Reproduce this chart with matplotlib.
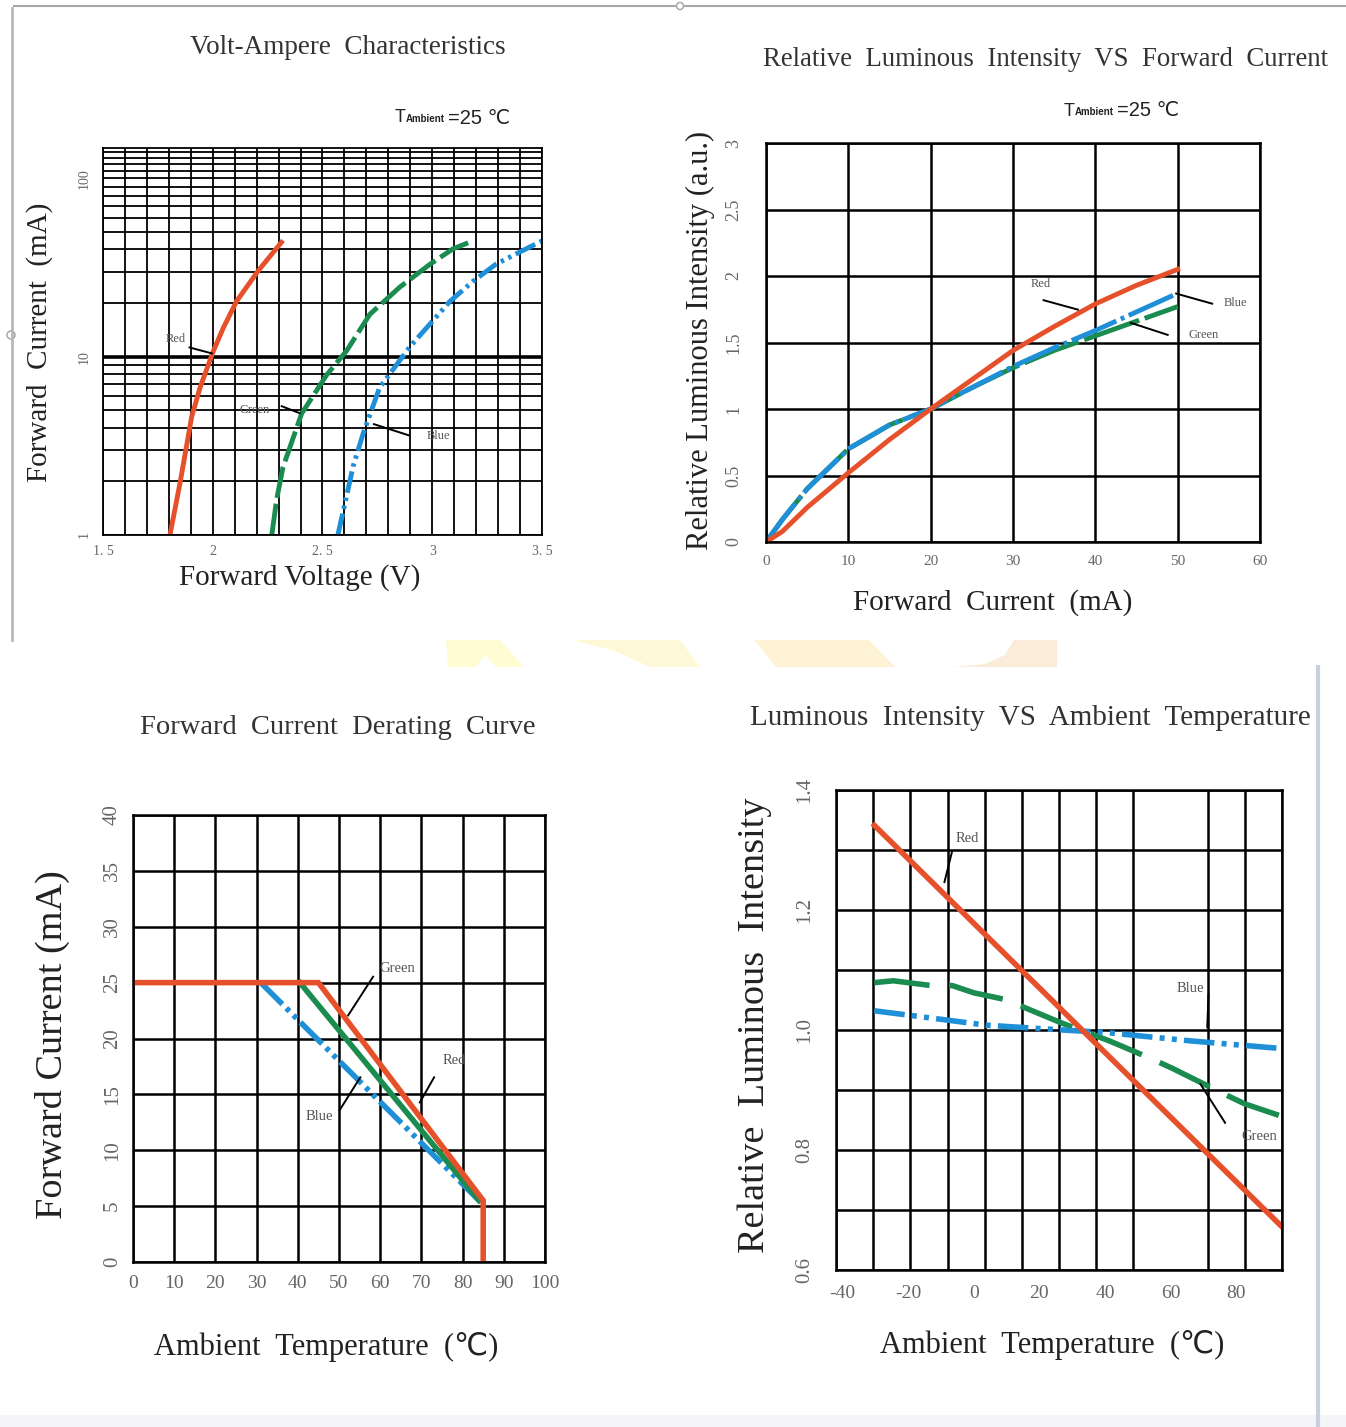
import numpy as np
import matplotlib
matplotlib.use('Agg')
import matplotlib.pyplot as plt
from matplotlib.patches import Polygon, Rectangle, Circle

plt.rcParams['font.family'] = ['Liberation Serif', 'DejaVu Sans', 'Noto Sans CJK SC']
plt.rcParams['axes.unicode_minus'] = False

W, H = 1346, 1427
RED, GREEN, BLUE = '#e6512b', '#1b8c50', '#1f8fd8'
TICKC = '#666666'

# ---- Volt-Ampere data (V, mA)
va_red_v = [1.805, 1.851, 1.904, 1.942, 2.002, 2.048, 2.109, 2.207, 2.313]
va_red_i = [1.0, 1.96, 4.6, 6.7, 10.7, 14.5, 20.5, 30.3, 43.8]
va_green_v = [2.269, 2.291, 2.32, 2.405, 2.519, 2.61, 2.716, 2.853, 2.99, 3.095, 3.186]
va_green_i = [1.0, 1.58, 2.4, 4.8, 7.9, 10.8, 17.3, 24.6, 33, 40.3, 44.6]
va_blue_v = [2.57, 2.61, 2.64, 2.685, 2.76, 2.899, 3.08, 3.186, 3.29, 3.40, 3.5]
va_blue_i = [1.0, 1.66, 2.44, 3.7, 6.7, 11.4, 20.4, 26.5, 33, 38.7, 44.6]
va_xticks = [1.5, 2, 2.5, 3, 3.5]
va_xlabels = ['1. 5', '2', '2. 5', '3', '3. 5']

# ---- relative intensity vs forward current
ri_i = [0, 2, 5, 10, 15, 20, 25, 30, 35, 40, 45, 50]
ri_red = [0, 0.08, 0.26, 0.52, 0.77, 1.0, 1.22, 1.44, 1.62, 1.79, 1.93, 2.05]
ri_blue = [0, 0.17, 0.40, 0.70, 0.88, 1.0, 1.16, 1.32, 1.46, 1.59, 1.73, 1.87]
ri_green = [0, 0.17, 0.40, 0.70, 0.88, 1.0, 1.16, 1.31, 1.44, 1.55, 1.66, 1.77]

# ---- derating curve
dr_red_t = [0, 45, 85, 85]
dr_red_i = [25, 25, 5.5, 0]
dr_green_t = [40.5, 84]
dr_green_i = [25, 5.5]
dr_blue_t = [31, 84]
dr_blue_i = [25, 5.5]

# ---- intensity vs ambient temperature
at_red_t = [-30.3, 94]
at_red = [1.341, 0.672]
at_green_t = [-30.3, -24.5, -12.9, -6.5, 0, 10.3, 16.1, 27.1, 33.5, 41.3, 54.2, 60.6, 76.1, 82.6, 94]
at_green = [1.079, 1.082, 1.074, 1.074, 1.062, 1.05, 1.036, 1.011, 0.998, 0.982, 0.952, 0.936, 0.894, 0.877, 0.856]
at_blue_t = [-30.3, -11.6, 3.9, 27.1, 40, 65.8, 94]
at_blue = [1.032, 1.019, 1.008, 1.0, 0.996, 0.982, 0.969]


def box(x0, y0, x1, y1):
    return [x0 / W, 1 - y1 / H, (x1 - x0) / W, (y1 - y0) / H]


def ftext(x, y, s, **kw):
    kw.setdefault('ha', 'center')
    kw.setdefault('va', 'center')
    fig.text(x / W, 1 - y / H, s, **kw)


def tamb(x, y):
    fam = ['Liberation Sans', 'DejaVu Sans', 'Noto Sans CJK SC']
    ftext(x, y, 'T', ha='left', fontsize=13, family=fam, color='#222')
    ftext(x + 11, y + 1, 'Ambient', ha='left', fontsize=7, family=fam, color='#222', fontweight='bold')
    ftext(x + 53, y, '=25 \u2103', ha='left', fontsize=14.5, family=fam, color='#222')


def style(ax, lw, tsize, ytsize=None, ypad=8, xpad=8):
    for s in ax.spines.values():
        s.set_linewidth(lw)
        s.set_color('black')
    ax.tick_params(which='both', length=0, colors=TICKC)
    ax.tick_params(axis='x', labelsize=tsize, pad=xpad)
    ax.tick_params(axis='y', labelsize=ytsize or tsize, pad=ypad, labelrotation=90)
    for t in ax.get_yticklabels():
        t.set_va('center')
    ax.set_axisbelow(True)


def note(ax, text, xy, line, size=9):
    ax.text(xy[0], xy[1], text, fontsize=size, color='#555555', ha='center', va='center')
    ax.plot(line[0], line[1], color='black', lw=1.4, solid_capstyle='butt')


fig = plt.figure(figsize=(W / 100, H / 100), dpi=100)

# background decorations
bg = fig.add_axes([0, 0, 1, 1])
bg.set_xlim(0, W)
bg.set_ylim(H, 0)
bg.axis('off')
bg.plot([14, 676], [6, 6], color='#a8a8a8', lw=1.5)
bg.plot([684, W], [6, 6], color='#a8a8a8', lw=1.5)
bg.plot([12, 12], [8, 640], color='#b8b8b8', lw=2)
bg.add_patch(Circle((11, 335), 4, fill=True, fc='white', ec='#a0a0a0', lw=1))
bg.add_patch(Circle((680, 6), 3.5, fill=True, fc='white', ec='#a0a0a0', lw=1))
bg.plot([1318, 1318], [667, H], color='#c8d0e0', lw=3)
bg.add_patch(Rectangle((0, 1415), W, 12, color='#f5f5f8', lw=0))
wm = [
    ([(446, 640), (500, 640), (524, 667), (448, 667)], '#fffbd2'),
    ([(572, 640), (680, 640), (700, 667), (650, 667), (615, 651)], '#fff8d6'),
    ([(754, 640), (869, 640), (895, 667), (776, 667)], '#fef3d4'),
    ([(1014, 640), (1057, 640), (1057, 667), (953, 667), (985, 664), (1005, 655)], '#fbebd9'),
]
for pts, c in wm:
    bg.add_patch(Polygon(pts, closed=True, fc=c, ec='none'))
bg.add_patch(Polygon([(476, 667), (485, 655), (496, 667)], closed=True, fc='white', ec='none'))

# ---------------- top-left: Volt-Ampere
ax1 = fig.add_axes(box(103, 148, 542, 535))
ax1.set_yscale('log')
ax1.set_xlim(1.5, 3.5)
ax1.set_ylim(1, 148)
ax1.set_xticks(va_xticks, va_xlabels)
ax1.set_xticks(np.arange(1.5, 3.51, 0.1), minor=True)
ax1.set_yticks([1, 10, 100], ['1', '10', '100'])
minor_y = [m * d for d in (1, 10) for m in range(2, 10)] + [110, 120, 130, 140]
ax1.set_yticks(minor_y, minor=True)
ax1.yaxis.set_minor_formatter(plt.NullFormatter())
ax1.grid(which='both', color='black', lw=1.3)
ax1.axhline(10, color='black', lw=2.6)
ax1.plot(va_red_v, va_red_i, color=RED, lw=3.5)
ax1.plot(va_green_v, va_green_i, color=GREEN, lw=3.5, dashes=(6.5, 1.2))
ax1.plot(va_blue_v, va_blue_i, color=BLUE, lw=3.5, dashes=(4.5, 1, 0.7, 1, 0.7, 1))
note(ax1, 'Red', (1.83, 12.5), ([1.89, 2.0], [11.3, 10.4]), size=9)
note(ax1, 'Green', (2.19, 5.0), ([2.31, 2.40], [5.3, 4.8]), size=9)
note(ax1, 'Blue', (3.03, 3.6), ([2.73, 2.90], [4.2, 3.6]), size=9)
style(ax1, 1.3, 10, ypad=9, xpad=7)
ftext(348, 48, 'Volt-Ampere  Characteristics', fontsize=19.5, color='#333')
ftext(40, 342, 'Forward  Current  (mA)', fontsize=21, rotation=90, color='#222')
ftext(300, 578, 'Forward Voltage (V)', fontsize=21, color='#222')
tamb(395, 118)

# ---------------- top-right: relative intensity vs current
ax2 = fig.add_axes(box(766, 143, 1260, 542))
ax2.set_xlim(0, 60)
ax2.set_ylim(0, 3)
ax2.set_xticks(range(0, 61, 10))
ax2.set_yticks([0, 0.5, 1, 1.5, 2, 2.5, 3], ['0', '0.5', '1', '1.5', '2', '2.5', '3'])
ax2.grid(color='black', lw=1.8)
ax2.plot(ri_i, ri_green, color=GREEN, lw=3.5, dashes=(12, 1.2))
ax2.plot(ri_i, ri_blue, color=BLUE, lw=3.5, dashes=(10, 1, 0.8, 1))
ax2.plot(ri_i, ri_red, color=RED, lw=3.5)
note(ax2, 'Red', (33.4, 1.94), ([33.6, 38.0], [1.82, 1.745]), size=9)
note(ax2, 'Blue', (57.0, 1.80), ([49.7, 54.3], [1.87, 1.79]), size=9)
note(ax2, 'Green', (53.2, 1.555), ([44.2, 48.9], [1.65, 1.555]), size=9)
style(ax2, 1.8, 11, ytsize=13, ypad=17, xpad=9)
ftext(1046, 60, 'Relative  Luminous  Intensity  VS  Forward  Current', fontsize=19.3, color='#333')
ftext(700, 340, 'Relative Luminous Intensity (a.u.)', fontsize=22, rotation=90, color='#222')
ftext(993, 603, 'Forward  Current  (mA)', fontsize=21, color='#222')
tamb(1064, 111)

# ---------------- bottom-left: derating
ax3 = fig.add_axes(box(133, 815, 545, 1262))
ax3.set_xlim(0, 100)
ax3.set_ylim(0, 40)
ax3.set_xticks(range(0, 101, 10))
ax3.set_yticks(range(0, 41, 5))
ax3.grid(color='black', lw=1.8)
ax3.plot(dr_blue_t, dr_blue_i, color=BLUE, lw=4, dashes=(5.5, 1, 0.8, 1, 0.8, 1))
ax3.plot(dr_green_t, dr_green_i, color=GREEN, lw=4)
ax3.plot(dr_red_t, dr_red_i, color=RED, lw=4, solid_joinstyle='miter')
note(ax3, 'Green', (64.2, 26.3), ([58.4, 52.1], [25.6, 22.0]), size=10.5)
note(ax3, 'Red', (77.9, 18.0), ([73.2, 69.5], [16.6, 14.2]), size=10.5)
note(ax3, 'Blue', (45.3, 13.0), ([50.0, 55.3], [13.5, 16.6]), size=10.5)
style(ax3, 1.8, 14, ytsize=15, ypad=8, xpad=9)
ftext(338, 727, 'Forward  Current  Derating  Curve', fontsize=20.5, color='#333')
ftext(52, 1045, 'Forward Current (mA)', fontsize=27.5, rotation=90, color='#222')
ftext(326, 1347, 'Ambient  Temperature  (\u2103)', fontsize=22, color='#222')

# ---------------- bottom-right: intensity vs ambient temperature
ax4 = fig.add_axes(box(836, 790, 1282, 1270))
ax4.set_xlim(-42, 94)
ax4.set_ylim(0.6, 1.4)
ax4.set_xticks(range(-40, 81, 20))
ax4.set_xticks(np.linspace(-42, 94, 13), minor=True)
ax4.set_yticks([0.6, 0.8, 1.0, 1.2, 1.4], ['0.6', '0.8', '1.0', '1.2', '1.4'])
ax4.set_yticks(np.arange(0.7, 1.4, 0.2), minor=True)
ax4.grid(which='minor', axis='x', color='black', lw=1.8)
ax4.grid(which='both', axis='y', color='black', lw=1.8)
ax4.plot(at_green_t, at_green, color=GREEN, lw=4, dashes=(10, 3.5))
ax4.plot(at_blue_t, at_blue, color=BLUE, lw=4, dashes=(5.5, 1.3, 0.9, 1.3, 0.9, 1.3))
ax4.plot(at_red_t, at_red, color=RED, lw=4)
note(ax4, 'Red', (-1.9, 1.32), ([-6.5, -9.0], [1.30, 1.245]), size=10.5)
note(ax4, 'Blue', (66.0, 1.069), ([71.6, 71.2], [1.061, 1.003]), size=10.5)
note(ax4, 'Green', (87.0, 0.823), ([76.8, 69.0], [0.844, 0.911]), size=10.5)
style(ax4, 1.8, 14, ytsize=15, ypad=16, xpad=11)
ftext(1030, 718, 'Luminous  Intensity  VS  Ambient  Temperature', fontsize=21, color='#333')
ftext(755, 1025, 'Relative  Luminous  Intensity', fontsize=27.5, rotation=90, color='#222')
ftext(1052, 1345, 'Ambient  Temperature  (\u2103)', fontsize=22, color='#222')

fig.savefig('out.png', dpi=100)
